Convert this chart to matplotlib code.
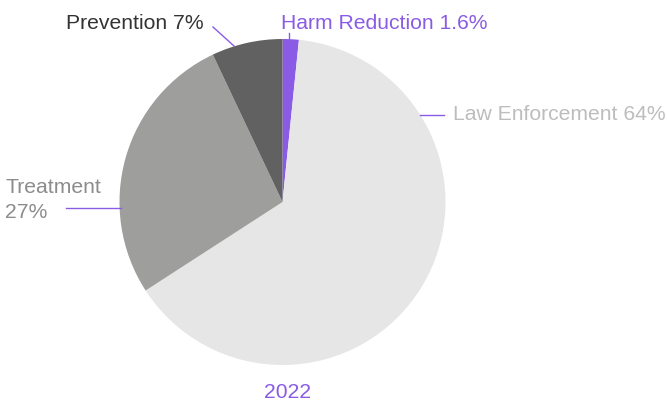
import matplotlib
matplotlib.use("Agg")
import matplotlib.pyplot as plt
from matplotlib.lines import Line2D

plt.rcParams['font.family'] = ['Liberation Sans', 'DejaVu Sans']

categories = ["Harm Reduction", "Law Enforcement", "Treatment", "Prevention"]
shares = [1.6, 64.0, 27.0, 7.0]
share_labels = ["1.6%", "64%", "27%", "7%"]
year = "2022"

slice_colors = ["#8a5ce6", "#e6e6e6", "#9e9e9d", "#616161"]
purple = "#8a5ce6"

W, H = 667, 402
fig = plt.figure(figsize=(W / 100, H / 100), dpi=100)

# pie placement in pixels (top-left origin)
cx, cy, r = 282.5, 203.0, 163.0
ax = fig.add_axes([(cx - r) / W, (H - cy - r) / H, 2 * r / W, 2 * r / H])
ax.pie(shares, colors=slice_colors, startangle=90, counterclock=False,
       radius=1.0, wedgeprops=dict(linewidth=0))
ax.set_xlim(-1, 1)
ax.set_ylim(-1, 1)
ax.set_aspect("equal")
ax.axis("off")


def fx(x):
    return x / W


def fy(y):
    return 1 - y / H


def leader(x0, y0, x1, y1):
    fig.add_artist(Line2D([fx(x0), fx(x1)], [fy(y0), fy(y1)],
                          color=purple, lw=1.0, transform=fig.transFigure))


fs = 15.2
# Harm Reduction
leader(289, 34, 289, 40)
fig.text(fx(281), fy(29), f"{categories[0]} {share_labels[0]}", color=purple,
         fontsize=fs, ha="left", va="baseline")
# Law Enforcement
leader(420, 115.5, 444, 115.5)
fig.text(fx(453), fy(120), f"{categories[1]} {share_labels[1]}", color="#bdbdbd",
         fontsize=fs, ha="left", va="baseline")
# Treatment (two lines)
leader(66, 208.5, 121, 208.5)
fig.text(fx(5), fy(193), categories[2], color="#8c8c8c",
         fontsize=fs, ha="left", va="baseline")
fig.text(fx(5), fy(218), share_labels[2], color="#8c8c8c",
         fontsize=fs, ha="left", va="baseline")
# Prevention
leader(213, 28, 234, 47)
fig.text(fx(66), fy(29), f"{categories[3]} {share_labels[3]}", color="#333333",
         fontsize=fs, ha="left", va="baseline")

# year caption
fig.text(fx(288), fy(398), year, color=purple, fontsize=fs, ha="center", va="baseline")

fig.savefig("out.png", dpi=100)
